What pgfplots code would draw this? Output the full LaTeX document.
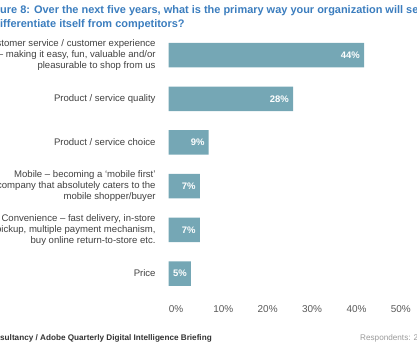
\documentclass[border=0pt]{standalone}
\usepackage{fontspec}
\setmainfont{Liberation Sans}
\usepackage{pgfplots}
\pgfplotsset{compat=1.18}
\definecolor{barcol}{HTML}{75A7B5}
\definecolor{titleblue}{HTML}{3B7DBE}
\definecolor{labgray}{HTML}{404040}
\definecolor{tickgray}{HTML}{595959}
\definecolor{footdark}{HTML}{333333}
\definecolor{footlight}{HTML}{9A9A9A}
\begin{document}
\begin{tikzpicture}
\useasboundingbox (0,0) rectangle (417bp,-348bp);
\clip (0,0) rectangle (417bp,-348bp);
% title
\node[anchor=base west, inner sep=0, text=titleblue, font=\fontsize{11}{14}\selectfont\bfseries] at (0,-13bp)
  {\llap{Fig}ure 8: Over the next five years, what is the primary way your organization will seek to};
\node[anchor=base west, inner sep=0, text=titleblue, font=\fontsize{11}{14}\selectfont\bfseries] at (0,-27bp)
  {\llap{d}ifferentiate itself from competitors?};
\begin{axis}[
  at={(168.7bp,-295.4bp)}, anchor=south west,
  scale only axis, width=222bp, height=262.2bp,
  xmin=0, xmax=50, ymin=-0.5, ymax=5.5, y dir=reverse,
  axis line style={draw=none}, tick style={draw=none},
  /pgf/number format/assume math mode=true,
  xtick={0,10,20,30,40,50},
  xticklabel={\pgfmathprintnumber{\tick}\%},
  xticklabel style={anchor=base west, inner sep=0pt, yshift=-17.2bp, text=tickgray, font=\fontsize{10}{12}\selectfont},
  ytick={0,1,2,3,4,5},
  yticklabels={
    {Customer service / customer experience\\– making it easy, fun, valuable and/or\\pleasurable to shop from us},
    {Product / service quality},
    {Product / service choice},
    {Mobile – becoming a ‘mobile first’\\company that absolutely caters to the\\mobile shopper/buyer},
    {Convenience – fast delivery, in-store\\pickup, multiple payment mechanism,\\buy online return-to-store etc.},
    {Price}},
  yticklabel style={anchor=east, align=right, inner sep=0pt, xshift=-8.7bp, text=labgray, font=\fontsize{9.6}{11}\selectfont},
  xbar, bar width=24.5bp,
  point meta=x,
  nodes near coords={\pgfmathprintnumber{\pgfplotspointmeta}\%},
  every node near coord/.append style={anchor=east, xshift=-4bp, inner sep=0pt, text=white, font=\fontsize{9.5}{11}\selectfont\bfseries},
  clip=false,
]
\addplot[fill=barcol, draw=none] coordinates {(44,0) (28,1) (9,2) (7,3) (7,4) (5,5)};
\end{axis}
% footer
\node[anchor=base west, inner sep=0, text=footdark, font=\fontsize{8.2}{10}\selectfont\bfseries] at (0,-340bp)
  {\llap{Econ}sultancy / Adobe Quarterly Digital Intelligence Briefing};
\node[anchor=base west, inner sep=0, text=footlight, font=\fontsize{8.2}{10}\selectfont] at (360bp,-340bp)
  {Respondents: 2,000};
\end{tikzpicture}
\end{document}
